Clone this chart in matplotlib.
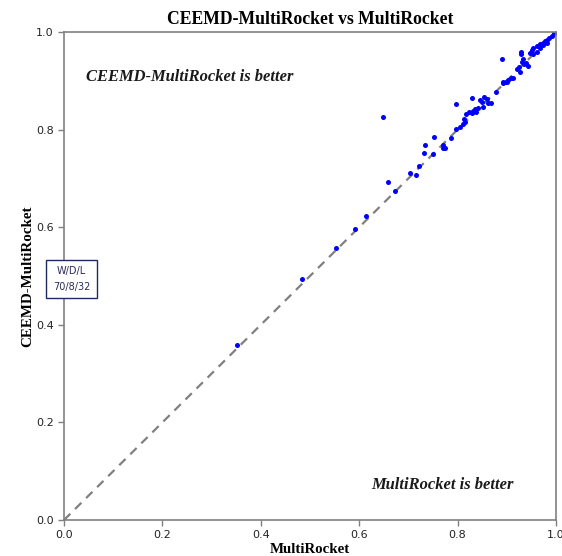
import matplotlib
matplotlib.use("Agg")
import matplotlib.pyplot as plt

multirocket = [0.352, 0.483, 0.552, 0.591, 0.614, 0.648, 0.659, 0.673, 0.704, 0.715,
               0.722, 0.731, 0.733, 0.751, 0.753, 0.770, 0.771, 0.774, 0.787, 0.796,
               0.796, 0.805, 0.810, 0.814, 0.815, 0.818, 0.824, 0.829, 0.830, 0.832,
               0.835, 0.838, 0.841, 0.846, 0.849, 0.851, 0.854, 0.859, 0.862, 0.868,
               0.878, 0.891, 0.893, 0.893, 0.898, 0.901, 0.903, 0.908, 0.913, 0.920,
               0.925, 0.926, 0.928, 0.928, 0.930, 0.932, 0.934, 0.940, 0.944, 0.948,
               0.951, 0.954, 0.954, 0.961, 0.961, 0.967, 0.967, 0.973, 0.974, 0.978,
               0.981, 0.982, 0.986, 0.991, 0.995, 1.000]
ceemd_multirocket = [0.359, 0.494, 0.558, 0.596, 0.622, 0.826, 0.693, 0.674, 0.712, 0.706,
                     0.725, 0.753, 0.769, 0.749, 0.784, 0.762, 0.768, 0.762, 0.782, 0.801,
                     0.852, 0.806, 0.811, 0.821, 0.815, 0.831, 0.837, 0.833, 0.864, 0.839,
                     0.842, 0.836, 0.844, 0.861, 0.857, 0.846, 0.867, 0.863, 0.854, 0.855,
                     0.878, 0.945, 0.895, 0.898, 0.898, 0.898, 0.902, 0.906, 0.906, 0.925,
                     0.928, 0.919, 0.960, 0.954, 0.939, 0.945, 0.934, 0.936, 0.931, 0.957,
                     0.964, 0.955, 0.967, 0.959, 0.971, 0.967, 0.975, 0.977, 0.974, 0.981,
                     0.984, 0.977, 0.988, 0.991, 0.998, 1.000]

ticks = [0.0, 0.2, 0.4, 0.6, 0.8, 1.0]
tick_labels = ["0.0", "0.2", "0.4", "0.6", "0.8", "1.0"]
wdl_text = "W/D/L\n70/8/32"

fig = plt.figure(figsize=(5.62, 5.56), dpi=100)
ax = fig.add_axes([64/562, 36/556, 492/562, 488/556])

ax.plot([0, 1], [0, 1], linestyle=(0, (4, 3)), color="#808080", linewidth=1.6, zorder=1)
ax.scatter(multirocket, ceemd_multirocket, s=13, color="#0000ff", zorder=2, linewidths=0)

ax.set_xlim(0, 1)
ax.set_ylim(0, 1)
ax.set_xticks(ticks)
ax.set_xticklabels(tick_labels)
ax.set_yticks(ticks)
ax.set_yticklabels(tick_labels)
for sp in ax.spines.values():
    sp.set_color("#808080")
    sp.set_linewidth(1.2)
ax.tick_params(colors="#808080", labelcolor="#222222", labelsize=8, length=4, width=1)

serif = ["Liberation Serif", "DejaVu Serif"]
ax.set_title("CEEMD-MultiRocket vs MultiRocket", fontsize=12.7, fontweight="bold",
             family=serif, pad=6)
ax.set_xlabel("MultiRocket", fontsize=10.7, fontweight="bold", family=serif, labelpad=2)
ax.set_ylabel("CEEMD-MultiRocket", fontsize=10.8, fontweight="bold", family=serif, labelpad=1)

ax.text(0.256, 0.908, "CEEMD-MultiRocket is better", transform=ax.transAxes,
        ha="center", va="center", fontsize=11.9, fontweight="bold", fontstyle="italic",
        family=serif, color="#1a1a1a")
ax.text(0.770, 0.072, "MultiRocket is better", transform=ax.transAxes,
        ha="center", va="center", fontsize=11.9, fontweight="bold", fontstyle="italic",
        family=serif, color="#1a1a1a")

fig.text(71.5/562, (556-279)/556, wdl_text, ha="center", va="center", fontsize=7,
         color="#2a2a5a", linespacing=1.7,
         bbox=dict(boxstyle="square,pad=0.65", facecolor="white", edgecolor="#1f2a5a",
                   linewidth=1.0))

fig.savefig("out.png", dpi=100)
